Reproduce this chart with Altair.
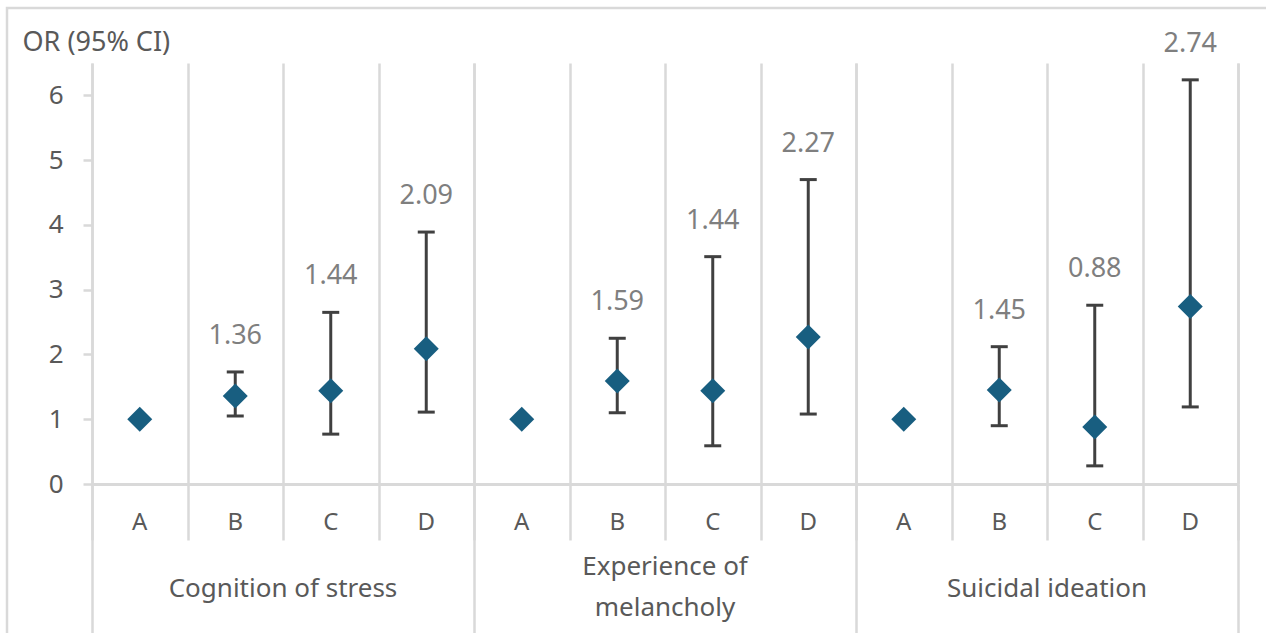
import altair as alt
import pandas as pd

# Odds ratios with 95% confidence intervals, A is the reference level (OR = 1)
groups = ["Cognition of stress", "Experience of\nmelancholy", "Suicidal ideation"]
levels = ["A", "B", "C", "D"]
odds_ratio = [
    [1.00, 1.36, 1.44, 2.09],
    [1.00, 1.59, 1.44, 2.27],
    [1.00, 1.45, 0.88, 2.74],
]
ci_low = [
    [None, 1.05, 0.77, 1.11],
    [None, 1.10, 0.59, 1.08],
    [None, 0.90, 0.28, 1.19],
]
ci_high = [
    [None, 1.73, 2.65, 3.89],
    [None, 2.25, 3.51, 4.70],
    [None, 2.12, 2.76, 6.24],
]

rows = []
for gi, g in enumerate(groups):
    for li, lv in enumerate(levels):
        rows.append({
            "group": g,
            "level": lv,
            "key": f"{g}|{lv}",
            "or": odds_ratio[gi][li],
            "lo": ci_low[gi][li],
            "hi": ci_high[gi][li],
        })
df = pd.DataFrame(rows)
keys = list(df["key"])

FONT = "Noto Sans"
LINE = "#d9d9d9"
TEXT = "#595959"
BAR = "#404040"
MARKER = "#185e80"

W, H = 1146, 421
PAD = {"left": 92, "top": 63, "right": 28, "bottom": 149}

key_band = alt.Scale(type="band", domain=keys, paddingInner=0, paddingOuter=0)
group_band = alt.Scale(type="band", domain=groups, paddingInner=0, paddingOuter=0)
yscale = alt.Scale(domain=[0, 6.5], nice=False, zero=True)
y_axis = alt.Axis(
    values=[0, 1, 2, 3, 4, 5, 6],
    title="OR (95% CI)",
    titleAngle=0,
    titleAlign="left",
    titleBaseline="middle",
    titleX=-70,
    titleY=-21,
    titleFont=FONT,
    titleFontSize=27,
    titleFontWeight="normal",
    titleColor=TEXT,
    labelFont=FONT,
    labelFontSize=26,
    labelColor=TEXT,
    labelPadding=20,
    tickSize=9,
    tickColor=LINE,
    tickWidth=2.5,
    domain=False,
    grid=False,
)

base = alt.Chart(df)

# chart-area frame
frame = alt.Chart(pd.DataFrame({"f": [0]})).mark_rect(
    filled=False, stroke=LINE, strokeWidth=2.5
).encode(
    x=alt.value(-85), x2=alt.value(W + 60),
    y=alt.value(-55), y2=alt.value(H + 200),
)

# separators between levels (grid + short ticks below the axis)
level_lines = base.mark_point(opacity=0).encode(
    x=alt.X("key:N", scale=key_band, title=None,
            axis=alt.Axis(orient="bottom", tickBand="extent", grid=True,
                          gridColor=LINE, gridWidth=2.5, ticks=True,
                          tickSize=56, tickColor=LINE, tickWidth=2.5,
                          labels=False, domain=False))
)

# separators between outcome groups (reach the bottom edge)
group_lines = base.mark_point(opacity=0).encode(
    x=alt.X("group:N", scale=group_band, title=None,
            axis=alt.Axis(orient="bottom", tickBand="extent", grid=True,
                          gridColor=LINE, gridWidth=2.5, ticks=True,
                          tickSize=170, tickColor=LINE, tickWidth=2.5,
                          labels=False, domain=False))
)


def group_label_row(expr, padding):
    """One row of outcome-group names below the level letters."""
    return base.mark_point(opacity=0).encode(
        x=alt.X("group:N", scale=group_band, title=None,
                axis=alt.Axis(orient="bottom", ticks=False, tickSize=0,
                              grid=False, domain=False, labelAngle=0,
                              labelExpr=expr, labelLimit=0,
                              labelPadding=padding, labelBaseline="middle",
                              labelFont=FONT, labelFontSize=26,
                              labelColor=TEXT))
    )


parts = "split(datum.label, '\\n')"
# single-line names sit in the middle row, two-line names use the outer rows
group_single = group_label_row(f"length({parts}) > 1 ? '' : datum.label", 104)
group_first = group_label_row(f"length({parts}) > 1 ? {parts}[0] : ''", 82)
group_second = group_label_row(f"length({parts}) > 1 ? {parts}[1] : ''", 123)

x_none = alt.X("key:N", scale=key_band, axis=None)

ci_stem = base.mark_rule(color=BAR, strokeWidth=3).encode(
    x=x_none,
    y=alt.Y("lo:Q", scale=yscale, axis=y_axis),
    y2="hi:Q",
)
cap_low = base.mark_tick(color=BAR, size=17, thickness=3, opacity=1).encode(
    x=x_none, y=alt.Y("lo:Q", scale=yscale, axis=y_axis)
)
cap_high = base.mark_tick(color=BAR, size=17, thickness=3, opacity=1).encode(
    x=x_none, y=alt.Y("hi:Q", scale=yscale, axis=y_axis)
)

diamonds = base.mark_point(shape="diamond", filled=True, size=625,
                           color=MARKER, opacity=1).encode(
    x=alt.X("key:N", scale=key_band, title=None,
            axis=alt.Axis(orient="bottom", labelExpr="split(datum.label, '|')[1]",
                          ticks=False, tickSize=0, grid=False, domain=True,
                          domainColor=LINE, domainWidth=3, labelAngle=0,
                          labelPadding=38, labelBaseline="middle",
                          labelFont=FONT, labelFontSize=24, labelColor=TEXT)),
    y=alt.Y("or:Q", scale=yscale, axis=y_axis),
)

value_labels = base.transform_filter("isValid(datum.hi)").mark_text(
    dy=-36, baseline="middle", font=FONT, fontSize=27, color="#7f7f7f"
).encode(
    x=x_none,
    y=alt.Y("hi:Q", scale=yscale, axis=y_axis),
    text=alt.Text("or:Q", format=".2f"),
)

chart = alt.layer(
    frame, level_lines, group_lines, group_single, group_first, group_second,
    ci_stem, cap_low, cap_high, diamonds, value_labels,
).resolve_scale(x="independent").properties(
    width=W, height=H, padding=PAD,
    autosize=alt.AutoSizeParams(type="none"),
    background="white",
).configure_view(stroke=None)

chart.save("out.html", embed_options={"renderer": "svg", "actions": False})
